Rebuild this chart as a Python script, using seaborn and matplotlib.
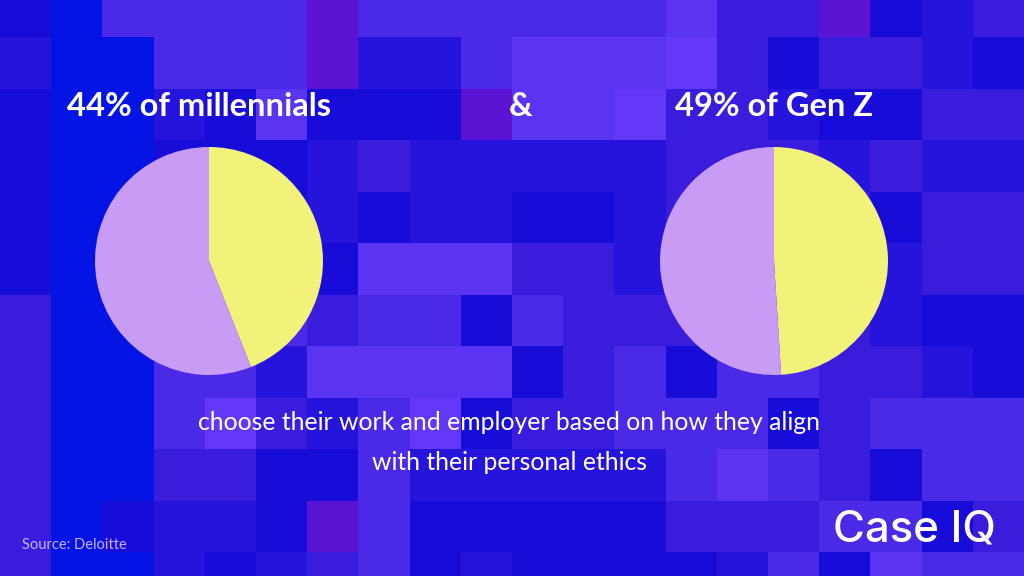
import numpy as np
import matplotlib
matplotlib.use("Agg")
import matplotlib.pyplot as plt
import seaborn as sns
from matplotlib.colors import ListedColormap

# background mosaic: palette keys and one string per row of tiles
PALETTE_KEYS = "bdivmplr"
PALETTE = ["#0414E4", "#180CD8", "#2614DC", "#3A1CDC",
           "#4A2AE6", "#5A34F0", "#6438F8", "#5C14D4"]
MOSAIC = [
    "dbmmmmrmmmmmmpvvrdiv",
    "ibbmmmriimppplvdvvid",
    "dbbidpdddrpplvviddvv",
    "dbbdddiviiiiivvvivii",
    "dbbiddidiiddivvvvdvv",
    "dbbvmddpppvvivvvmivv",
    "vbbvmmvmmdmvvvmvvidd",
    "vbbmmippppdvmdmmvvid",
    "vbbmlvimldvvmmmdvmmm",
    "vbbvvddmiiiiimpmvdmm",
    "vbdiidrmdddddvvvmmdv",
    "vbbidivmdiddddimdpmm",
]

# pie data
GROUPS = ["44% of millennials", "49% of Gen Z"]
SHARES = [44, 49]
YES_COLOR = "#F2F27A"
NO_COLOR = "#C89CF4"

SUBTITLE = ["choose their work and employer based on how they align",
            "with their personal ethics"]
SOURCE = "Source: Deloitte"
BRAND = "Case IQ"

sns.set_theme(style="white")
plt.rcParams["font.family"] = ["Lato", "DejaVu Sans"]

W, H = 1024, 576
fig = plt.figure(figsize=(W / 100, H / 100), dpi=100)

# mosaic axes (rows offset a bit above the top edge)
grid = np.array([[PALETTE_KEYS.index(c) for c in r] for r in MOSAIC])
top_px, cell_h = -14.5, 51.5
bg_h = cell_h * len(MOSAIC)
bg = fig.add_axes([0, 1 - (top_px + bg_h) / H, 1, bg_h / H])
sns.heatmap(grid, ax=bg, cmap=ListedColormap(PALETTE), vmin=-0.5,
            vmax=len(PALETTE) - 0.5, cbar=False, xticklabels=False,
            yticklabels=False, linewidths=0)
bg.set_axis_off()

# pies
centers = [(209, 261), (774, 261)]
radius = 114
for (cx, cy), share in zip(centers, SHARES):
    ax = fig.add_axes([(cx - radius) / W, 1 - (cy + radius) / H,
                       2 * radius / W, 2 * radius / H])
    ax.pie([share, 100 - share], colors=[YES_COLOR, NO_COLOR],
           startangle=90, counterclock=False,
           wedgeprops=dict(linewidth=0))
    ax.set_xlim(-1, 1)
    ax.set_ylim(-1, 1)
    ax.set_axis_off()

# headings
head = dict(color="white", fontsize=23.5, fontweight="bold", va="center")
fig.text(67 / W, 1 - 106 / H, GROUPS[0], ha="left", **head)
fig.text(521 / W, 1 - 106 / H, "&", ha="center", **head)
fig.text(774 / W, 1 - 106 / H, GROUPS[1], ha="center", **head)

for line, y in zip(SUBTITLE, [423, 462]):
    fig.text(509 / W, 1 - y / H, line, color="white", fontsize=17.8,
             ha="center", va="center")

fig.text(22 / W, 1 - 545 / H, SOURCE, color="#C4B4FF", fontsize=10.5,
         ha="left", va="center")
fig.text(996 / W, 1 - 530 / H, BRAND, color="white", fontsize=31.5,
         ha="right", va="center", fontweight="medium",
         family=["Inter", "DejaVu Sans"])

fig.savefig("out.png", dpi=100)
